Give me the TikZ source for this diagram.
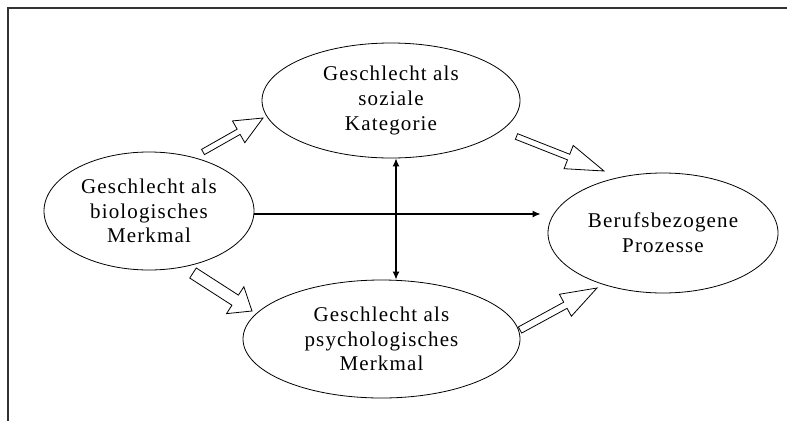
\documentclass[tikz,border=0pt]{standalone}
\usepackage{fontspec}
\newfontfamily\bubblefont{Liberation Serif}[LetterSpace=5.5]
\usetikzlibrary{arrows.meta,shapes.geometric,calc}

% hollow block arrow: tail, tip, shaft half width, head half width, head length
\newcommand\hollowarrow[5]{%
  \draw[hollow] ($(#1)!#3!90:(#2)$) -- ($(#2)!#5!(#1)!#3!-90:(#1)$)
    -- ($(#2)!#5!(#1)!#4!-90:(#1)$) -- (#2)
    -- ($(#2)!#5!(#1)!#4!90:(#1)$) -- ($(#2)!#5!(#1)!#3!90:(#1)$)
    -- ($(#1)!#3!-90:(#2)$) -- cycle;}

\begin{document}
\begin{tikzpicture}[x=1pt,y=-1pt,
    bubble/.style={ellipse,draw,line width=0.8pt,inner sep=0pt,align=center,
      font=\bubblefont\fontsize{21}{24.7}\selectfont},
    hollow/.style={line width=0.8pt,fill=white,line join=miter},
    link/.style={line width=1.3pt,>={Latex[length=8pt,width=7pt]}}]
  \useasboundingbox (0,0) rectangle (787,421);
  \draw[line width=1.2pt,black!80] (787,8) -- (8,8) -- (8,421); % frame
  %
  \node[bubble,minimum width=258pt,minimum height=115pt] (soc) at (391,100.5) {Geschlecht als\\soziale\\Kategorie};
  \node[bubble,minimum width=210pt,minimum height=118pt] (bio) at (149,211) {Geschlecht als\\biologisches\\Merkmal};
  \node[bubble,minimum width=230pt,minimum height=120pt] (ber) at (663,233) {Berufsbezogene\\Prozesse};
  \node[bubble,minimum width=277pt,minimum height=118pt] (psy) at (381.5,339) {Geschlecht als\\psychologisches\\Merkmal};
  %
  \coordinate (hmid) at (396,214);
  \draw[link,->] (bio.east |- hmid) -- ([xshift=-7pt]ber.west |- hmid);
  \draw[link,<->] (hmid |- soc.south) -- (hmid |- psy.north);
  %
  \coordinate (t1) at (203,152);   \coordinate (h1) at (263,118);
  \coordinate (t2) at (516.5,136.5); \coordinate (h2) at (604,171);
  \coordinate (t3) at (193,273);   \coordinate (h3) at (252,311);
  \coordinate (t4) at (520,330);   \coordinate (h4) at (597,288);
  \hollowarrow{t1}{h1}{3pt}{12.5pt}{28pt} % bio -> soc
  \hollowarrow{t2}{h2}{3pt}{12.5pt}{38pt} % soc -> ber
  \hollowarrow{t3}{h3}{6pt}{16pt}{20pt}   % bio -> psy
  \hollowarrow{t4}{h4}{3.5pt}{12.5pt}{36pt} % psy -> ber
\end{tikzpicture}
\end{document}
